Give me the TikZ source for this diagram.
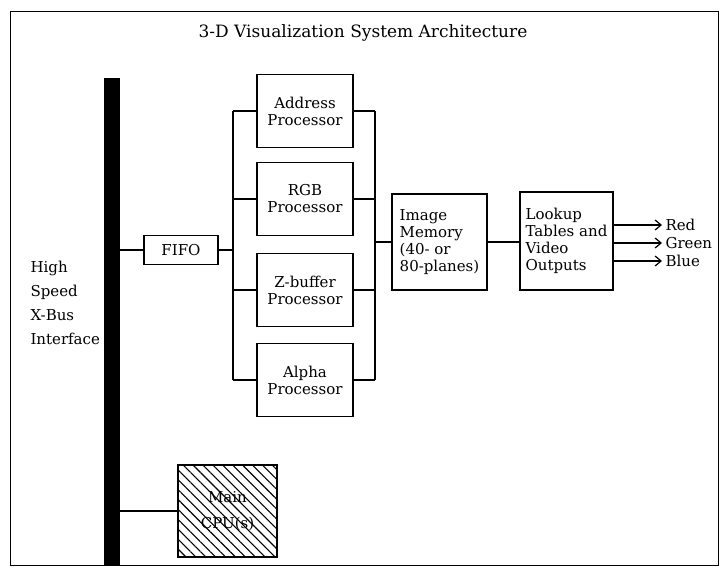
\documentclass[tikz,border=0pt]{standalone}
\usepackage{fontspec}
\setmainfont{DejaVu Serif}
\usepackage{tikz}
\usetikzlibrary{patterns.meta,arrows.meta}

\begin{document}
\begin{tikzpicture}[x=1pt,y=-1pt,
        box/.style={draw,line width=1.2pt,inner sep=0pt,font=\fontsize{15}{17}\selectfont},
        proc/.style={box,align=center,minimum width=96pt,minimum height=73pt},
        wire/.style={line width=1.2pt},
        lbl/.style={font=\fontsize{15}{17}\selectfont}]
        \useasboundingbox (0,0) rectangle (727,569);
        \draw[line width=0.8pt] (10,11) rectangle (718,565);
        \node[font=\fontsize{17}{19}\selectfont] (title) at (363,33) {3-D Visualization System Architecture};
        % bus and its label
        \node[fill=black,minimum width=16pt,minimum height=488pt,inner sep=0pt] (bus) at (112,322) {};
        \node[anchor=west,align=left,font=\fontsize{15}{24}\selectfont] (xbus) at (27,303) {High\\Speed\\X-Bus\\Interface};
        \node[box,minimum width=74pt,minimum height=29pt] (fifo) at (181,250) {FIFO};
        % processors
        \node[proc] (addr) at (305,111) {Address\\Processor};
        \node[proc] (rgb) at (305,199) {RGB\\Processor};
        \node[proc] (zbuf) at (305,290) {Z-buffer\\Processor};
        \node[proc] (alpha) at (305,380) {Alpha\\Processor};
        \coordinate (lrail) at (233,250);
        \coordinate (rrail) at (375,242);
        \node[box,align=left,minimum width=95pt,minimum height=96pt] (mem) at (439.5,242) {Image\\Memory\\(40- or\\80-planes)};
        \node[box,align=left,minimum width=93pt,minimum height=98pt] (lut) at (566.5,241) {Lookup\\Tables and\\Video\\Outputs};
        \node[lbl,anchor=west] (red) at (662,225) {Red};
        \node[lbl,anchor=west] (green) at (662,243) {Green};
        \node[lbl,anchor=west] (blue) at (662,261) {Blue};
        \node[box,align=center,font=\fontsize{15}{26}\selectfont,minimum width=99pt,minimum height=92pt,
            pattern={Lines[angle=-45,distance=7pt,line width=1.1pt]}] (cpu) at (227.5,511) {Main\\CPU(s)};
        % connections
        \draw[wire] (bus.east |- fifo.west) -- (fifo.west);
        \draw[wire] (fifo.east) -- (lrail);
        \draw[wire] (addr.west -| lrail) -- (alpha.west -| lrail);
        \draw[wire] (addr.east -| rrail) -- (alpha.east -| rrail);
        \draw[wire] (addr.west -| lrail) -- (addr.west);
        \draw[wire] (rgb.west -| lrail) -- (rgb.west);
        \draw[wire] (zbuf.west -| lrail) -- (zbuf.west);
        \draw[wire] (alpha.west -| lrail) -- (alpha.west);
        \draw[wire] (addr.east) -- (addr.east -| rrail);
        \draw[wire] (rgb.east) -- (rgb.east -| rrail);
        \draw[wire] (zbuf.east) -- (zbuf.east -| rrail);
        \draw[wire] (alpha.east) -- (alpha.east -| rrail);
        \draw[wire] (rrail) -- (mem.west);
        \draw[wire] (mem.east) -- (lut.west |- mem.east);
        \draw[wire,-{Straight Barb[length=6pt,width=10pt]}] (lut.east |- red) -- (red.west);
        \draw[wire,-{Straight Barb[length=6pt,width=10pt]}] (lut.east |- green) -- (green.west);
        \draw[wire,-{Straight Barb[length=6pt,width=10pt]}] (lut.east |- blue) -- (blue.west);
        \draw[wire] (bus.east |- cpu.west) -- (cpu.west);
\end{tikzpicture}
\end{document}
